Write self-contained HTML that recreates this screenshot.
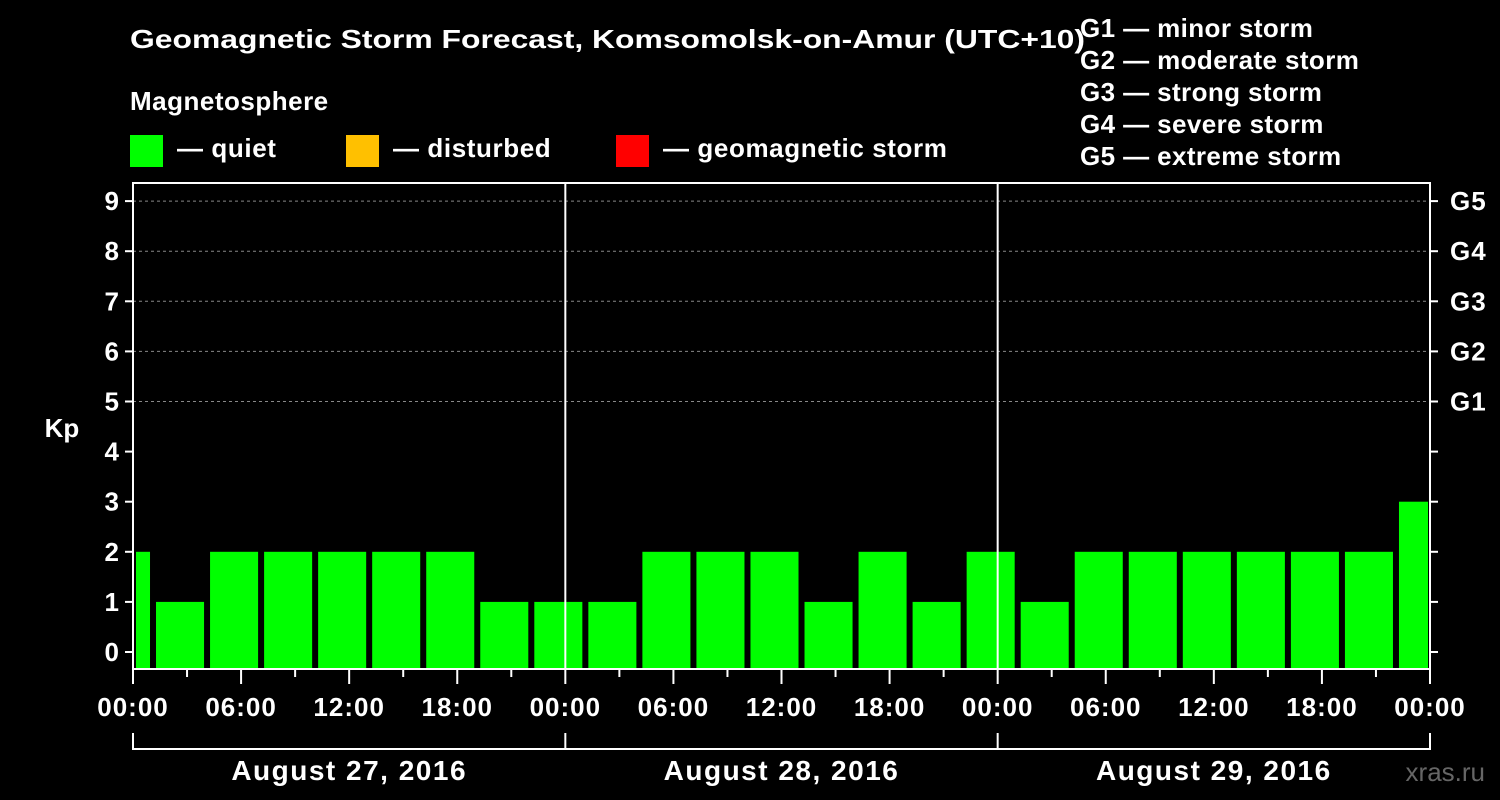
<!DOCTYPE html>
<html><head><meta charset="utf-8"><style>
html,body{margin:0;padding:0;background:#000;}
svg{display:block;font-family:"Liberation Sans",sans-serif;font-weight:bold;}
</style></head><body>
<svg id="chart" width="1500" height="800" viewBox="0 0 1500 800">
<text x="130" y="48" fill="#fff" font-size="26" textLength="955" lengthAdjust="spacingAndGlyphs">Geomagnetic Storm Forecast, Komsomolsk-on-Amur (UTC+10)</text>
<text x="130" y="110" fill="#fff" font-size="26" letter-spacing="0.5">Magnetosphere</text>
<g font-size="26" letter-spacing="0.6" fill="#fff">
<g><rect x="130" y="135" width="33" height="32" fill="#00ff00"/><text x="177" y="157">— quiet</text></g>
<g><rect x="346" y="135" width="33" height="32" fill="#ffc000"/><text x="393" y="157">— disturbed</text></g>
<g><rect x="616" y="135" width="33" height="32" fill="#ff0000"/><text x="663" y="157">— geomagnetic storm</text></g>
</g>
<g fill="#fff" font-size="26" letter-spacing="0.4">
<text x="1080" y="37">G1 — minor storm</text><text x="1080" y="69">G2 — moderate storm</text><text x="1080" y="101">G3 — strong storm</text><text x="1080" y="133">G4 — severe storm</text><text x="1080" y="165">G5 — extreme storm</text>
</g>
<g id="bars"></g>
<g id="axes"></g>
<text x="62" y="437" fill="#fff" font-size="26" text-anchor="middle">Kp</text>
<text x="1485" y="781" fill="#666" font-size="26" text-anchor="end" font-weight="normal">xras.ru</text>
</svg>
<script>
const kpValues = [2,1,2,2,2,2,2,1,1,1,2,2,2,1,2,1,2,1,2,2,2,2,2,2,3];
const yTicks = [0,1,2,3,4,5,6,7,8,9];
const gLabels = ["G1","G2","G3","G4","G5"];
const gLevels = [5,6,7,8,9];
const dayLabels = ["August 27, 2016","August 28, 2016","August 29, 2016"];
const hourLabels = ["00:00","06:00","12:00","18:00"];

const NS="http://www.w3.org/2000/svg";
const L=133, R=1430, T=183, B=669, Y0=652, YS=50.1;
const HOUR=(R-L)/72, START=-2;
const y=v=>Y0-v*YS, x=h=>L+h*HOUR;
function mk(tag,attrs,parent){const e=document.createElementNS(NS,tag);for(const k in attrs)e.setAttribute(k,attrs[k]);parent.appendChild(e);return e;}
const bars=document.getElementById('bars'), ax=document.getElementById('axes');
gLevels.forEach(v=>{const l=mk('line',{x1:L,x2:R,y1:y(v),y2:y(v),stroke:'#888','stroke-dasharray':'3,3'},ax);

});
kpValues.forEach((v,i)=>{
  let s=x(START+i*3)+5, e=x(START+i*3+3)-1;
  s=Math.max(s,L+3); e=Math.min(e,R-2);
  if(e<=s) return;
  const c=v>=5?'#ff0000':(v>=4?'#ffc000':'#00ff00');
  const r=mk('rect',{x:s,y:y(v),width:e-s,height:B-y(v),fill:c},bars);
  
  
});
[1,2].forEach(d=>{const l=mk('line',{x1:x(d*24),x2:x(d*24),y1:T,y2:B,stroke:'#fff','stroke-width':2},ax);

});
const f=mk('rect',{x:L,y:T,width:R-L,height:B-T,fill:'none',stroke:'#fff','stroke-width':2},ax);


yTicks.forEach(v=>{
  mk('line',{x1:L-8,x2:L,y1:y(v),y2:y(v),stroke:'#fff','stroke-width':2},ax);
  mk('line',{x1:R,x2:R+8,y1:y(v),y2:y(v),stroke:'#fff','stroke-width':2},ax);
  const t=mk('text',{x:L-14,y:y(v)+9,fill:'#fff','font-size':26,'text-anchor':'end'},ax);t.textContent=v;
  
  
});
gLevels.forEach((v,i)=>{const t=mk('text',{x:R+20,y:y(v)+9,fill:'#fff','font-size':26,'letter-spacing':1},ax);t.textContent=gLabels[i];

});
for(let h=0;h<=72;h+=3){
  const long=h%6===0;
  mk('line',{x1:x(h),x2:x(h),y1:B,y2:B+(long?15:8),stroke:'#fff','stroke-width':2},ax);
  if(long){const t=mk('text',{x:x(h),y:716,fill:'#fff','font-size':26,'letter-spacing':1,'text-anchor':'middle'},ax);t.textContent=hourLabels[(h/6)%4];
  
  }
}
mk('line',{x1:L,x2:R,y1:749,y2:749,stroke:'#fff','stroke-width':2},ax);
[0,1,2,3].forEach(d=>mk('line',{x1:x(d*24),x2:x(d*24),y1:733,y2:750,stroke:'#fff','stroke-width':2},ax));
dayLabels.forEach((s,d)=>{const t=mk('text',{x:x(d*24+12),y:780,fill:'#fff','font-size':28,'letter-spacing':1.5,'text-anchor':'middle'},ax);t.textContent=s;

});
</script>
</body></html>
